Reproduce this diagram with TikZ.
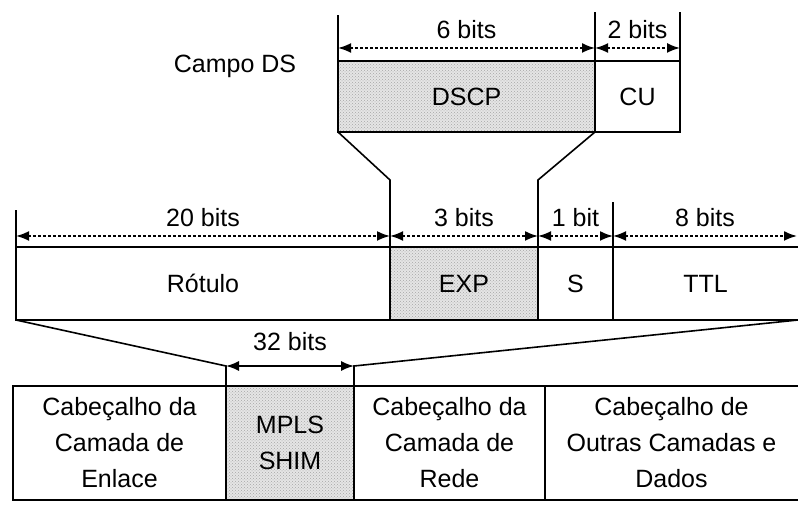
\documentclass[tikz,border=0pt]{standalone}
\usepackage{fontspec}
\setmainfont{Liberation Sans}
\usepackage{tikz}
\usetikzlibrary{patterns,arrows.meta}

\tikzset{
  field/.style={draw, line width=1.6pt, inner sep=0pt, outer sep=0pt, anchor=north west,
    align=center, font=\fontsize{25}{36}\selectfont},
  stipple/.style={field, preaction={fill=gray!20}, pattern=crosshatch dots, pattern color=gray!70},
  tick/.style={line width=1.6pt},
  bitarrow/.style={line width=1.8pt, dash pattern=on 2.5pt off 2.5pt,
    {Latex[length=13pt,width=10pt]}-{Latex[length=13pt,width=10pt]}},
  bitlabel/.style={font=\fontsize{25}{30}\selectfont, midway}
}

\begin{document}
\begin{tikzpicture}[x=1pt,y=-1pt]
  \useasboundingbox (0,0) rectangle (798,510);
  \def\toph{71}\def\midh{73}\def\both{114}
  % campo DS
  \node[font=\fontsize{25}{30}\selectfont] (campo) at (235,66) {Campo DS};
  \node[stipple, minimum width=257pt, minimum height=\toph pt] (dscp) at (338,61) {DSCP};
  \node[field, minimum width=85pt, minimum height=\toph pt] (cu) at (dscp.north east) {CU};
  \draw[tick] (dscp.north west) -- ++(0,-46) coordinate (ds0);
  \draw[tick] (cu.north west) -- ++(0,-49) coordinate (ds1);
  \draw[tick] (cu.north east) -- ++(0,-49) coordinate (ds2);
  \coordinate (dsy) at (0,48);
  \draw[bitarrow] (ds0 |- dsy) -- (ds1 |- dsy) node[bitlabel, yshift=18pt] {6 bits};
  \draw[bitarrow] (ds1 |- dsy) -- (ds2 |- dsy) node[bitlabel, yshift=18pt] {2 bits};
  % label MPLS
  \node[field, minimum width=374pt, minimum height=\midh pt] (rotulo) at (16,247) {Rótulo};
  \node[stipple, minimum width=148pt, minimum height=\midh pt] (exp) at (rotulo.north east) {EXP};
  \node[field, minimum width=75pt, minimum height=\midh pt] (s) at (exp.north east) {S};
  \node[field, draw=none, minimum width=185pt, minimum height=\midh pt] (ttl) at (s.north east) {TTL};
  \draw[tick] (ttl.north west) -- (ttl.north east);
  \draw[tick] (ttl.south west) -- (ttl.south east);
  \coordinate (jn) at (0,180);
  \draw[tick] (dscp.south west) -- (exp.north west |- jn) -- (exp.north west);
  \draw[tick] (dscp.south east) -- (exp.north east |- jn) -- (exp.north east);
  \draw[tick] (rotulo.north west) -- ++(0,-37) coordinate (lb0);
  \draw[tick] (s.north east) -- ++(0,-45) coordinate (lb3);
  \coordinate (lby) at (0,236);
  \coordinate (lb4) at (797,236);
  \draw[bitarrow] (lb0 |- lby) -- (exp.north west |- lby) node[bitlabel, yshift=18pt] {20 bits};
  \draw[bitarrow] (exp.north west |- lby) -- (exp.north east |- lby) node[bitlabel, yshift=18pt] {3 bits};
  \draw[bitarrow] (exp.north east |- lby) -- (lb3 |- lby) node[bitlabel, yshift=18pt] {1 bit};
  \draw[bitarrow] (lb3 |- lby) -- (lb4) node[bitlabel, yshift=18pt] {8 bits};
  % pacote
  \node[field, minimum width=213pt, minimum height=\both pt] (enlace) at (13,386) {Cabeçalho da\\Camada de\\Enlace};
  \node[stipple, minimum width=128pt, minimum height=\both pt] (mpls) at (enlace.north east) {MPLS\\SHIM};
  \node[field, minimum width=191pt, minimum height=\both pt] (rede) at (mpls.north east) {Cabeçalho da\\Camada de\\Rede};
  \node[field, draw=none, minimum width=253pt, minimum height=\both pt] (outras) at (rede.north east) {Cabeçalho de\\Outras Camadas e\\Dados};
  \draw[tick] (outras.north west) -- (outras.north east);
  \draw[tick] (outras.south west) -- (outras.south east);
  \coordinate (shy) at (0,366);
  \draw[tick] (rotulo.south west) -- (mpls.north west |- shy) -- (mpls.north west);
  \draw[tick] (ttl.south east) -- (mpls.north east |- shy) -- (mpls.north east);
  \draw[line width=1.6pt, {Latex[length=13pt,width=10pt]}-{Latex[length=13pt,width=10pt]}]
    (mpls.north west |- shy) -- (mpls.north east |- shy) node[bitlabel, yshift=24pt] {32 bits};
\end{tikzpicture}
\end{document}
